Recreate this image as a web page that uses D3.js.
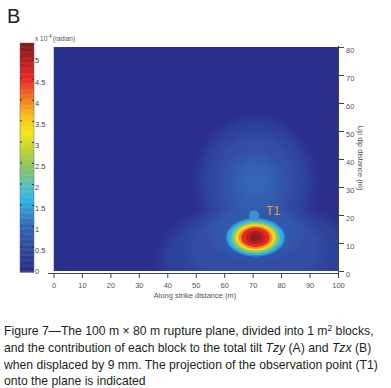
<!DOCTYPE html>
<html>
<head>
    <meta charset="utf-8">
    <script src="https://cdnjs.cloudflare.com/ajax/libs/d3/7.8.5/d3.min.js"></script>
    <style>
        body { margin: 0; background: #fff; }
        text { font-family: "Liberation Sans", Arial, sans-serif; }
        .tick text { fill: #555; font-size: 7.5px; }
    </style>
</head>
<body>
    <svg id="chart" width="391" height="388"></svg>
    <script>
        // tick values
        var xTicks = [0, 10, 20, 30, 40, 50, 60, 70, 80, 90, 100]
        var yTicks = [0, 10, 20, 30, 40, 50, 60, 70, 80]
        var cbTicks = [0, 0.5, 1, 1.5, 2, 2.5, 3, 3.5, 4, 4.5, 5]
        var cbTickLabels = ["0", "0.5", "1", "1.5", "2", "2.5", "3", "3.5", "4", "4.5", "5"]

        // colour map (x 10^-4 radian)
        var cStops = [0, 0.5, 1, 1.3, 1.6, 2, 2.4, 2.8, 3.2, 3.6, 4, 4.5, 4.9, 5.35]
        var cColors = ["#2b2f8c", "#2f4aa0", "#3466b6", "#358cd2", "#2cb4e6", "#5cc0bc", "#8cc55c",
            "#bcd035", "#f2e81c", "#f8c21b", "#f07e22", "#e52a26", "#bd1e22", "#7a1a1a"]

        // low level halo: level, centre x, centre y, radius x, radius y (m)
        var haloLevel = [0.35, 0.35, 0.55, 0.55, 0.75, 0.8, 1.0]
        var haloCx = [72, 71, 71, 71, 71, 71, 71]
        var haloCy = [4, 32, 8, 32, 14, 31, 32]
        var haloRx = [34, 20, 24, 15, 16, 10, 5]
        var haloRy = [20, 22, 14, 17, 10, 11, 6]

        // main blob bands
        var blobCenter = [71, 12]
        var blobLevel = [1.2, 1.6, 2.2, 2.8, 3.3, 3.9, 4.5, 4.9, 5.25]
        var blobRx = [10.5, 9.9, 8.6, 7.6, 6.8, 6.0, 5.0, 3.4, 1.9]
        var blobRy = [6.9, 6.4, 5.7, 5.1, 4.6, 4.1, 3.5, 2.4, 1.4]

        var t1 = { x: 70.5, y: 19.8 }

        var caption = [
            "Figure 7\u2014The 100 m \u00d7 80 m rupture plane, divided into 1 m|2| blocks,",
            "and the contribution of each block to the total tilt *Tzy* (A) and *Tzx* (B)",
            "when displaced by 9 mm. The projection of the observation point (T1)",
            "onto the plane is indicated"
        ]

        var svg = d3.select("#chart")

        var x = d3.scaleLinear().domain([0, 100]).range([53.5, 338])
        var y = d3.scaleLinear().domain([0, 80]).range([271, 47])
        var color = d3.scaleLinear().domain(cStops).range(cColors).clamp(true)

        var defs = svg.append("defs")
        defs.append("clipPath").attr("id", "plotClip")
            .append("rect")
            .attr("x", x(0)).attr("y", y(80))
            .attr("width", x(100) - x(0)).attr("height", y(0) - y(80))
        defs.append("filter").attr("id", "blurBig")
            .attr("x", "-50%").attr("y", "-50%").attr("width", "200%").attr("height", "200%")
            .append("feGaussianBlur").attr("stdDeviation", 5)
        defs.append("filter").attr("id", "blurSmall")
            .attr("x", "-50%").attr("y", "-50%").attr("width", "200%").attr("height", "200%")
            .append("feGaussianBlur").attr("stdDeviation", 0.7)

        // heat map
        var plot = svg.append("g").attr("clip-path", "url(#plotClip)")
        plot.append("rect")
            .attr("x", x(0)).attr("y", y(80))
            .attr("width", x(100) - x(0)).attr("height", y(0) - y(80))
            .style("fill", color(0))

        plot.append("g").attr("filter", "url(#blurBig)")
            .selectAll("ellipse")
            .data(haloLevel)
            .enter().append("ellipse")
            .attr("cx", (d, i) => x(haloCx[i]))
            .attr("cy", (d, i) => y(haloCy[i]))
            .attr("rx", (d, i) => x(haloRx[i]) - x(0))
            .attr("ry", (d, i) => y(0) - y(haloRy[i]))
            .style("fill", d => color(d))

        plot.append("g").attr("filter", "url(#blurSmall)")
            .selectAll("ellipse")
            .data(blobLevel)
            .enter().append("ellipse")
            .attr("cx", x(blobCenter[0]))
            .attr("cy", y(blobCenter[1]))
            .attr("rx", (d, i) => x(blobRx[i]) - x(0))
            .attr("ry", (d, i) => y(0) - y(blobRy[i]))
            .style("fill", d => color(d))

        plot.append("circle")
            .attr("cx", x(t1.x)).attr("cy", y(t1.y)).attr("r", 5)
            .style("fill", "#3f90d2")

        svg.append("text")
            .attr("x", x(t1.x) + 12).attr("y", y(t1.y) - 1)
            .style("font-size", "12px")
            .style("fill", "#e0a040")
            .text("T1")

        // x axis
        var xAxis = svg.append("g")
            .attr("transform", "translate(0,273)")
            .call(d3.axisBottom(x).tickValues(xTicks).tickSize(5).tickSizeOuter(0))
        xAxis.select(".domain").attr("d", "M48,0.5H338")
        xAxis.selectAll("line").style("stroke", "#444")
        xAxis.select(".domain").style("stroke", "#444")
        xAxis.selectAll("text").attr("dy", "0.95em")

        svg.append("text")
            .attr("x", 195).attr("y", 298)
            .style("text-anchor", "middle")
            .style("font-size", "7.5px")
            .style("fill", "#555")
            .text("Along strike distance (m)")

        // right axis
        var yAxis = svg.append("g")
            .attr("transform", "translate(338,0)")
            .call(d3.axisRight(y).tickValues(yTicks).tickSize(6).tickSizeOuter(0))
        yAxis.select(".domain").attr("d", "M0.5,46V273")
        yAxis.selectAll("line").style("stroke", "#444")
        yAxis.select(".domain").style("stroke", "#444")
        yAxis.selectAll("text").attr("x", 8).attr("dy", "0.75em")

        svg.append("text")
            .attr("transform", "translate(358,158) rotate(90)")
            .style("text-anchor", "middle")
            .style("font-size", "7.5px")
            .style("fill", "#555")
            .text("Up dip distance (m)")

        // colour bar
        var cb = d3.scaleLinear().domain([-0.09, 5.35]).range([272, 43])
        var cbSteps = d3.range(-0.09, 5.35, 0.02)
        svg.append("g").selectAll("rect")
            .data(cbSteps)
            .enter().append("rect")
            .attr("x", 20).attr("width", 14)
            .attr("y", d => cb(d + 0.02))
            .attr("height", d => cb(d) - cb(d + 0.02) + 0.5)
            .style("fill", d => color(d))
        svg.append("rect")
            .attr("x", 20).attr("y", 43).attr("width", 14).attr("height", 229)
            .style("fill", "none").style("stroke", "#666").style("stroke-width", 0.5)

        var cbAxis = svg.append("g")
            .attr("transform", "translate(34,0)")
            .call(d3.axisRight(cb).tickValues(cbTicks).tickFormat((d, i) => cbTickLabels[i]).tickSize(-2).tickSizeOuter(0))
        cbAxis.select(".domain").remove()
        cbAxis.selectAll("line").style("stroke", "#333")
        cbAxis.selectAll("text").attr("x", 1).attr("dy", "0.7em").style("fill", "#444")
        svg.append("g").selectAll("line")
            .data(cbTicks)
            .enter().append("line")
            .attr("x1", 20).attr("x2", 22)
            .attr("y1", d => cb(d)).attr("y2", d => cb(d))
            .style("stroke", "#333")

        var unit = svg.append("text")
            .attr("x", 35).attr("y", 41)
            .style("font-size", "6.5px")
            .style("fill", "#555")
        unit.append("tspan").text("x 10")
        unit.append("tspan").attr("dy", -3).style("font-size", "5px").text("-4")
        unit.append("tspan").attr("dy", 3).attr("dx", 1).text("(radian)")

        // panel letter
        svg.append("text")
            .attr("x", 7).attr("y", 23)
            .style("font-size", "20px")
            .style("fill", "#222")
            .text("B")

        // caption
        var capY = [335, 352, 368.5, 385]
        caption.forEach(function (line, i) {
            var t = svg.append("text")
                .attr("x", 4).attr("y", capY[i])
                .style("font-size", "12.2px")
                .style("fill", "#231f20")
            var lift = 0
            line.split(/(\*[^*]+\*|\|[^|]+\|)/).forEach(function (part) {
                if (!part) return
                var span = t.append("tspan")
                if (lift) { span.attr("dy", lift); lift = 0 }
                if (part[0] === "*") {
                    span.style("font-style", "italic").text(part.slice(1, -1))
                } else if (part[0] === "|") {
                    span.attr("dy", -4).style("font-size", "8.5px").text(part.slice(1, -1))
                    lift = 4
                } else {
                    span.text(part)
                }
            })
        })
    </script>
</body>
</html>
